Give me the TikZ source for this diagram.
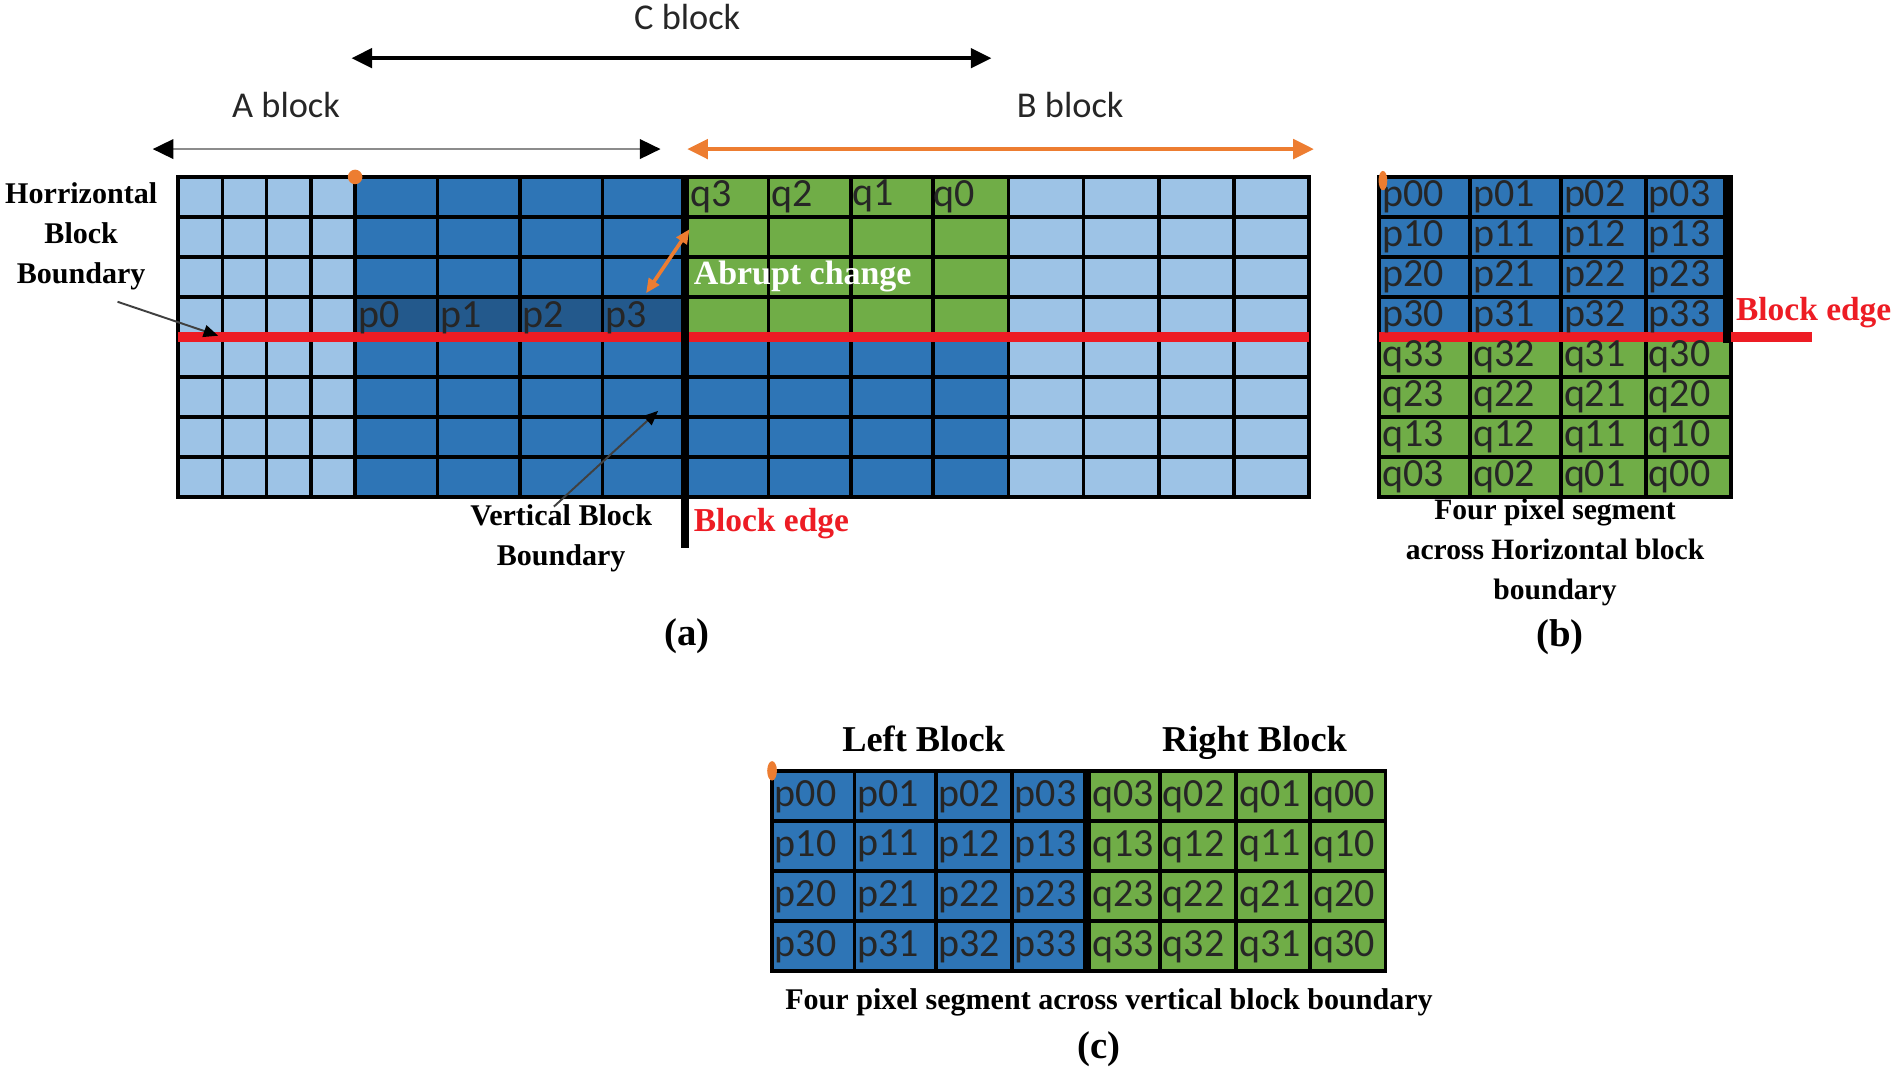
\documentclass[tikz,border=0pt]{standalone}
\usepackage{fontspec}
\setmainfont{Liberation Serif}
\newfontfamily\calib{Carlito}
\usetikzlibrary{arrows.meta}
\definecolor{lightb}{HTML}{9DC3E6}
\definecolor{darkb}{HTML}{2E75B6}
\definecolor{deepb}{HTML}{23598C}
\definecolor{grn}{HTML}{70AD47}
\definecolor{redl}{HTML}{ED1C24}
\definecolor{orng}{HTML}{ED7D31}
\begin{document}
\begin{tikzpicture}[x=0.5pt,y=-0.5pt,
  gridln/.style={black,line width=1.5pt,line cap=rect},
  thickln/.style={black,line width=3.5pt},
  redln/.style={redl,line width=4.2pt},
  celltxt/.style={anchor=west,inner sep=1pt,text=black!85,font=\calib\fontsize{16.5}{16.5}\selectfont},
  lbl/.style={font=\calib\fontsize{15}{18}\selectfont,text=black!85,inner sep=0pt},
  boldlbl/.style={font=\bfseries\fontsize{12.4}{16.5}\selectfont,align=center,inner sep=0pt},
  captxt/.style={font=\bfseries\fontsize{16}{18}\selectfont,inner sep=0pt},
  dtip/.tip={Triangle[length=8.5pt,width=8pt]},
  stip/.tip={Triangle[length=6pt,width=5pt]}]
\useasboundingbox (0,0) rectangle (1566,886);

% ---------------- panel (a) -----------------
\fill[lightb] (147,146) rectangle (293,410);
\fill[darkb] (293,146) rectangle (565,410);
\fill[deepb] (293,245) rectangle (565,278);
\fill[grn] (565,146) rectangle (832,278);
\fill[darkb] (565,278) rectangle (832,410);
\fill[lightb] (832,146) rectangle (1080,410);
\foreach \x in {147,183.5,220,256.5,293,361,429,497,634,702,770,832,894,956,1018,1080}
  \draw[gridln] (\x,146) -- (\x,410);
\foreach \i in {0,...,8}
  \draw[gridln] (147,{146+33*\i}) -- (1080,{146+33*\i});
\draw[redln] (147,278) -- (1080,278);
\draw[thickln] (565,146) -- (565,452);
\foreach \t [count=\k from 0] in {p0,p1,p2,p3}
  \node[celltxt] (ap\k) at ({293+68*\k},262) {\t};
\foreach \t [count=\k from 0] in {q3,q2,q1,q0}
  \node[celltxt] (aq\k) at ({567+67*\k},162) {\t};
\fill[orng] (293,146) circle[radius=3pt];

\node[lbl] (cblk) at (567,14) {C block};
\node[lbl] (ablk) at (236,87) {A block};
\node[lbl] (bblk) at (883,87) {B block};
\coordinate (cL) at (290,48); \coordinate (cR) at (818,48);
\coordinate (aL) at (126,123); \coordinate (aR) at (545,123);
\coordinate (bL) at (567,123); \coordinate (bR) at (1084,123);
\draw[black,line width=1.5pt,{dtip}-{dtip}] (cL) -- (cR);
\draw[black!45,line width=1pt,{dtip[color=black]}-{dtip[color=black]}] (aL) -- (aR);
\draw[orng,line width=1.5pt,{dtip}-{dtip}] (bL) -- (bR);

\node[boldlbl] (hbl) at (67,195) {Horrizontal\\Block\\Boundary};
\coordinate (hbs) at (97,249); \coordinate (hbe) at (180,277);
\draw[black!75,line width=0.8pt,-{stip[color=black]}] (hbs) -- (hbe);
\node[boldlbl] (vbl) at (463,444) {Vertical Block\\Boundary};
\coordinate (vbs) at (457,418); \coordinate (vbe) at (543,339);
\draw[black!75,line width=0.8pt,-{stip[color=black]}] (vbs) -- (vbe);
\node[boldlbl,anchor=west,text=redl,font=\bfseries\fontsize{13.8}{16}\selectfont] (bea) at (572,432) {Block edge};
\node[boldlbl,anchor=west,text=white,font=\bfseries\fontsize{14}{16}\selectfont] (abr) at (572,228) {Abrupt change};
\coordinate (abs) at (533,242); \coordinate (abe) at (569,189);
\draw[orng,line width=1.5pt,{stip}-{stip}] (abs) -- (abe);
\node[captxt] (capa) at (567,525) {(a)};

% ---------------- panel (b) -----------------
\fill[darkb] (1138,146) rectangle (1428,278);
\fill[grn] (1138,278) rectangle (1428,410);
\foreach \x in {1138,1213,1288,1358,1428}
  \draw[gridln] (\x,146) -- (\x,410);
\foreach \i in {0,...,8}
  \draw[gridln] (1138,{146+33*\i}) -- (1428,{146+33*\i});
\draw[redln] (1138,278) -- (1495,278);
\draw[thickln] (1425,146) -- (1425,283);
\foreach \r in {0,...,3}{
  \foreach \c/\xx in {0/1138,1/1213,2/1288,3/1358}{
    \node[celltxt] (bp\r\c) at (\xx,{162.5+33*\r}) {p\r\c};
    \pgfmathtruncatemacro{\qa}{3-\r}
    \pgfmathtruncatemacro{\qb}{3-\c}
    \node[celltxt] (bq\r\c) at (\xx,{294.5+33*\r}) {q\qa\qb};
  }
}
\fill[orng] (1141,149) ellipse[x radius=1.8pt,y radius=4pt];
\node[boldlbl,anchor=west,text=redl,font=\bfseries\fontsize{13.8}{16}\selectfont] (beb) at (1432,258) {Block edge};
\node[boldlbl,font=\bfseries\fontsize{12.2}{16.5}\selectfont] (capbtxt) at (1283,456) {Four pixel segment\\across Horizontal block\\boundary};
\node[captxt] (capb) at (1287,526) {(b)};

% ---------------- panel (c) -----------------
\fill[darkb] (637,636) rectangle (897,801);
\fill[grn] (897,636) rectangle (1143,801);
\foreach \x in {637,705,772,835,957,1020,1081,1143}
  \draw[gridln] (\x,636) -- (\x,801);
\foreach \i in {0,...,4}
  \draw[gridln] (637,{636+41.25*\i}) -- (1143,{636+41.25*\i});
\draw[thickln] (897,636) -- (897,801);
\foreach \r in {0,...,3}{
  \foreach \c/\xx in {0/637,1/705,2/772,3/835}{
    \node[celltxt] (cp\r\c) at (\xx,{657+41.25*\r}) {p\r\c};
  }
  \foreach \c/\xx in {0/899,1/957,2/1020,3/1081}{
    \pgfmathtruncatemacro{\qb}{3-\c}
    \node[celltxt] (cq\r\c) at (\xx,{657+41.25*\r}) {q\r\qb};
  }
}
\fill[orng] (637,636) ellipse[x radius=2pt,y radius=4pt];
\node[boldlbl,anchor=base,font=\bfseries\fontsize{15}{18}\selectfont] (lblk) at (762,620) {Left Block};
\node[boldlbl,anchor=base,font=\bfseries\fontsize{15}{18}\selectfont] (rblk) at (1035,620) {Right Block};
\node[boldlbl] (capctxt) at (915,827) {Four pixel segment across vertical block boundary};
\node[captxt] (capc) at (907,866) {(c)};
\end{tikzpicture}
\end{document}
